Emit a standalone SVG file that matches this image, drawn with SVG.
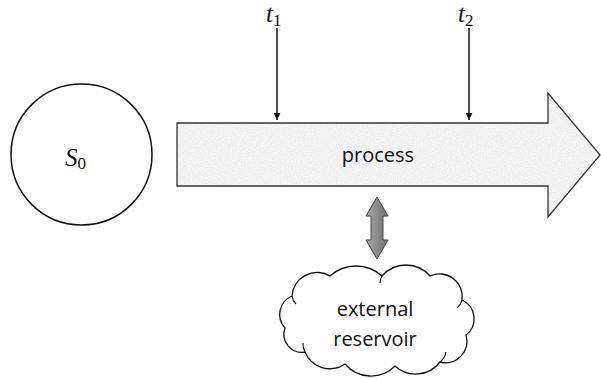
<svg xmlns="http://www.w3.org/2000/svg" width="601" height="379" viewBox="0 0 601 379">
<style>
.lbl{font-family:"Open Sans","Liberation Sans",sans-serif;font-size:20px;fill:#111;text-anchor:middle}
.math{font-family:"Liberation Serif","DejaVu Serif",serif;font-style:italic;font-size:25px;fill:#111}
.sub{font-style:normal;font-size:17px}
.edge{stroke:#111;stroke-width:1.5;fill:none}
</style>
<defs>
<marker id="ah" viewBox="0 0 10 10" refX="10" refY="5" markerWidth="7" markerHeight="7" markerUnits="userSpaceOnUse" orient="auto">
<path d="M0,0 L10,5 L0,10 Z" fill="#111"/>
</marker>
<filter id="tex" x="0" y="0" width="100%" height="100%">
<feTurbulence type="fractalNoise" baseFrequency="0.8" numOctaves="2" seed="3" result="n"/>
<feColorMatrix in="n" type="matrix" values="0.25 0 0 0 0.76  0.25 0 0 0 0.76  0.25 0 0 0 0.76  0 0 0 0 1" result="g"/>
<feComposite in="g" in2="SourceGraphic" operator="in"/>
</filter>
<linearGradient id="dg" x1="0" y1="0" x2="1" y2="0">
<stop offset="0" stop-color="#a8a8a8"/>
<stop offset="1" stop-color="#6e6e6e"/>
</linearGradient>
</defs>
<g id="s0">
<circle cx="81.5" cy="154.5" r="70.5" fill="#fff" stroke="#111" stroke-width="1.5"/>
<text class="math" x="65" y="166">S<tspan class="sub" dy="3">0</tspan></text>
</g>
<g id="process">
<polygon points="177,123 548,123 548,93 600,155 548,217 548,186 177,186" fill="#e4e4e4" filter="url(#tex)"/>
<polygon points="177,123 548,123 548,93 600,155 548,217 548,186 177,186" fill="none" stroke="#333" stroke-width="1.3"/>
<text class="lbl" x="378" y="162">process</text>
</g>
<g id="t1">
<text class="math" x="266" y="22">t<tspan class="sub" dy="4">1</tspan></text>
</g>
<g id="t2">
<text class="math" x="458" y="22">t<tspan class="sub" dy="4">2</tspan></text>
</g>
<g id="reservoir">
<path d="M292,296 A25.2,25.2 0 0 1 330,276 A38.8,38.8 0 0 1 382,276 A31.7,31.7 0 0 1 430,276 A22.7,22.7 0 0 1 462,300 A20.5,20.5 0 0 1 466,335 A21.5,21.5 0 0 1 440,362 A30.5,30.5 0 0 1 395,366 A33.9,33.9 0 0 1 345,364 A26.9,26.9 0 0 1 305,352 A18,18 0 0 1 285,328 A20,20 0 0 1 292,296 Z" fill="#fff" stroke="#111" stroke-width="1.3"/>
<path d="M292,296 A14,14 0 0 0 296,304 M305,352 A16,16 0 0 1 303,343 M382,276 A14,14 0 0 0 380,283 M462,300 A14,14 0 0 1 457,308 M440,362 A16,16 0 0 0 446,352" fill="none" stroke="#111" stroke-width="1.1"/>
<text class="lbl" x="375" y="316">external</text>
<text class="lbl" x="375" y="346">reservoir</text>
</g>
<g id="connectors">
<line class="edge" x1="277" y1="28" x2="277" y2="120" marker-end="url(#ah)"/>
<line class="edge" x1="469" y1="28" x2="469" y2="120" marker-end="url(#ah)"/>
<path d="M377,197 L388,216 L383,216 L383,240 L388,240 L377,259 L366,240 L371,240 L371,216 L366,216 Z" fill="url(#dg)" stroke="#444" stroke-width="1"/>
</g>
</svg>
